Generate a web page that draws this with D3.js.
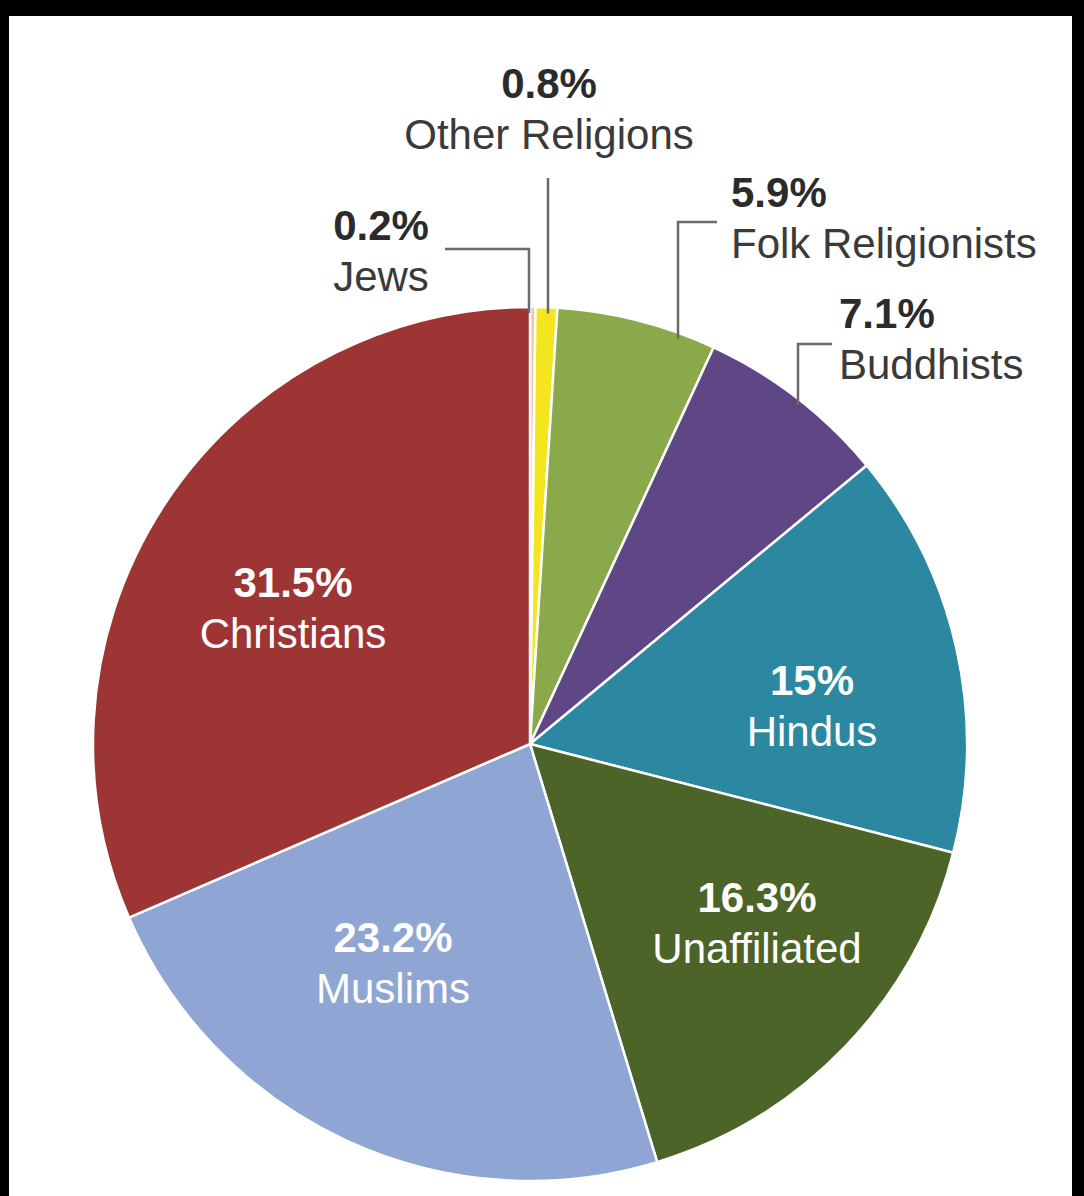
<!DOCTYPE html>
<html>
<head>
<meta charset="utf-8">
<script src="https://cdn.jsdelivr.net/npm/d3@7/dist/d3.min.js"></script>
<style>
  html, body { margin: 0; padding: 0; background: #000; }
  svg { display: block; }
</style>
</head>
<body>
<script>
// Share of the world population by religious group (%), clockwise from 12 o'clock
const groups = ["Jews", "Other Religions", "Folk Religionists", "Buddhists", "Hindus", "Unaffiliated", "Muslims", "Christians"];
const shares = [0.2, 0.8, 5.9, 7.1, 15, 16.3, 23.2, 31.5];
const shareLabels = ["0.2%", "0.8%", "5.9%", "7.1%", "15%", "16.3%", "23.2%", "31.5%"];
const colors = ["#eec8a0", "#f3e51e", "#89a94a", "#5e4784", "#2b88a0", "#4d6428", "#8fa5d3", "#9e3535"];

// Label placement: inside labels are centred, outside ones carry an elbow leader
const labelLayout = {
  "Jews":              { x: 381, y: 240, anchor: "middle", inside: false, leader: { x: 529, elbowY: 249, endX: 445 } },
  "Other Religions":   { x: 549, y: 98,  anchor: "middle", inside: false, leader: { x: 548, elbowY: 178, endX: 548 } },
  "Folk Religionists": { x: 731, y: 207, anchor: "start",  inside: false, leader: { x: 678, elbowY: 222, endX: 717 } },
  "Buddhists":         { x: 839, y: 328, anchor: "start",  inside: false, leader: { x: 798, elbowY: 344, endX: 832 } },
  "Hindus":            { x: 812, y: 695, anchor: "middle", inside: true },
  "Unaffiliated":      { x: 757, y: 912, anchor: "middle", inside: true },
  "Muslims":           { x: 393, y: 952, anchor: "middle", inside: true },
  "Christians":        { x: 293, y: 597, anchor: "middle", inside: true }
};

const W = 1084, H = 1196;
const cx = 530, cy = 744, R = 437;
const lineGap = 51;

const svg = d3.select("body").append("svg")
  .attr("width", W).attr("height", H);

// white page inside a dark frame
svg.append("rect").attr("x", 0).attr("y", 0).attr("width", W).attr("height", H).attr("fill", "#000");
svg.append("rect").attr("x", 9).attr("y", 16).attr("width", 1072 - 9).attr("height", H - 16).attr("fill", "#fff");

const data = groups.map((g, i) => ({ group: g, value: shares[i], label: shareLabels[i], color: colors[i] }));

const pie = d3.pie().sort(null).value(d => d.value).startAngle(0).endAngle(2 * Math.PI);
const arc = d3.arc().innerRadius(0).outerRadius(R);
const arcs = pie(data);

const g = svg.append("g").attr("transform", `translate(${cx},${cy})`);

g.selectAll("path.slice")
  .data(arcs)
  .join("path")
  .attr("class", "slice")
  .attr("d", arc)
  .attr("fill", d => d.data.color)
  .attr("stroke", "#fff")
  .attr("stroke-width", 2.5)
  .attr("stroke-linejoin", "round");

// leader lines for the thin slices: from the rim up to an elbow, then across to the label
const leaders = arcs.filter(d => !labelLayout[d.data.group].inside);
svg.selectAll("path.leader")
  .data(leaders)
  .join("path")
  .attr("class", "leader")
  .attr("fill", "none")
  .attr("stroke", "#6a6a6a")
  .attr("stroke-width", 2.5)
  .attr("d", d => {
    const L = labelLayout[d.data.group].leader;
    const dx = L.x - cx;
    const rimY = cy - Math.sqrt(R * R - dx * dx) + 6;
    return `M${L.x},${rimY} L${L.x},${L.elbowY} L${L.endX},${L.elbowY}`;
  });

// two-line labels: bold share over group name
const labels = svg.selectAll("g.label")
  .data(arcs)
  .join("g")
  .attr("class", "label")
  .attr("font-family", "'Liberation Sans', Arial, Helvetica, sans-serif")
  .attr("font-size", 42);

labels.append("text")
  .attr("x", d => labelLayout[d.data.group].x)
  .attr("y", d => labelLayout[d.data.group].y)
  .attr("text-anchor", d => labelLayout[d.data.group].anchor)
  .attr("font-weight", "bold")
  .attr("fill", d => labelLayout[d.data.group].inside ? "#ffffff" : "#2b2b2b")
  .text(d => d.data.label);

labels.append("text")
  .attr("x", d => labelLayout[d.data.group].x)
  .attr("y", d => labelLayout[d.data.group].y + lineGap)
  .attr("text-anchor", d => labelLayout[d.data.group].anchor)
  .attr("fill", d => labelLayout[d.data.group].inside ? "#ffffff" : "#3a3a3a")
  .text(d => d.data.group);
</script>
</body>
</html>
